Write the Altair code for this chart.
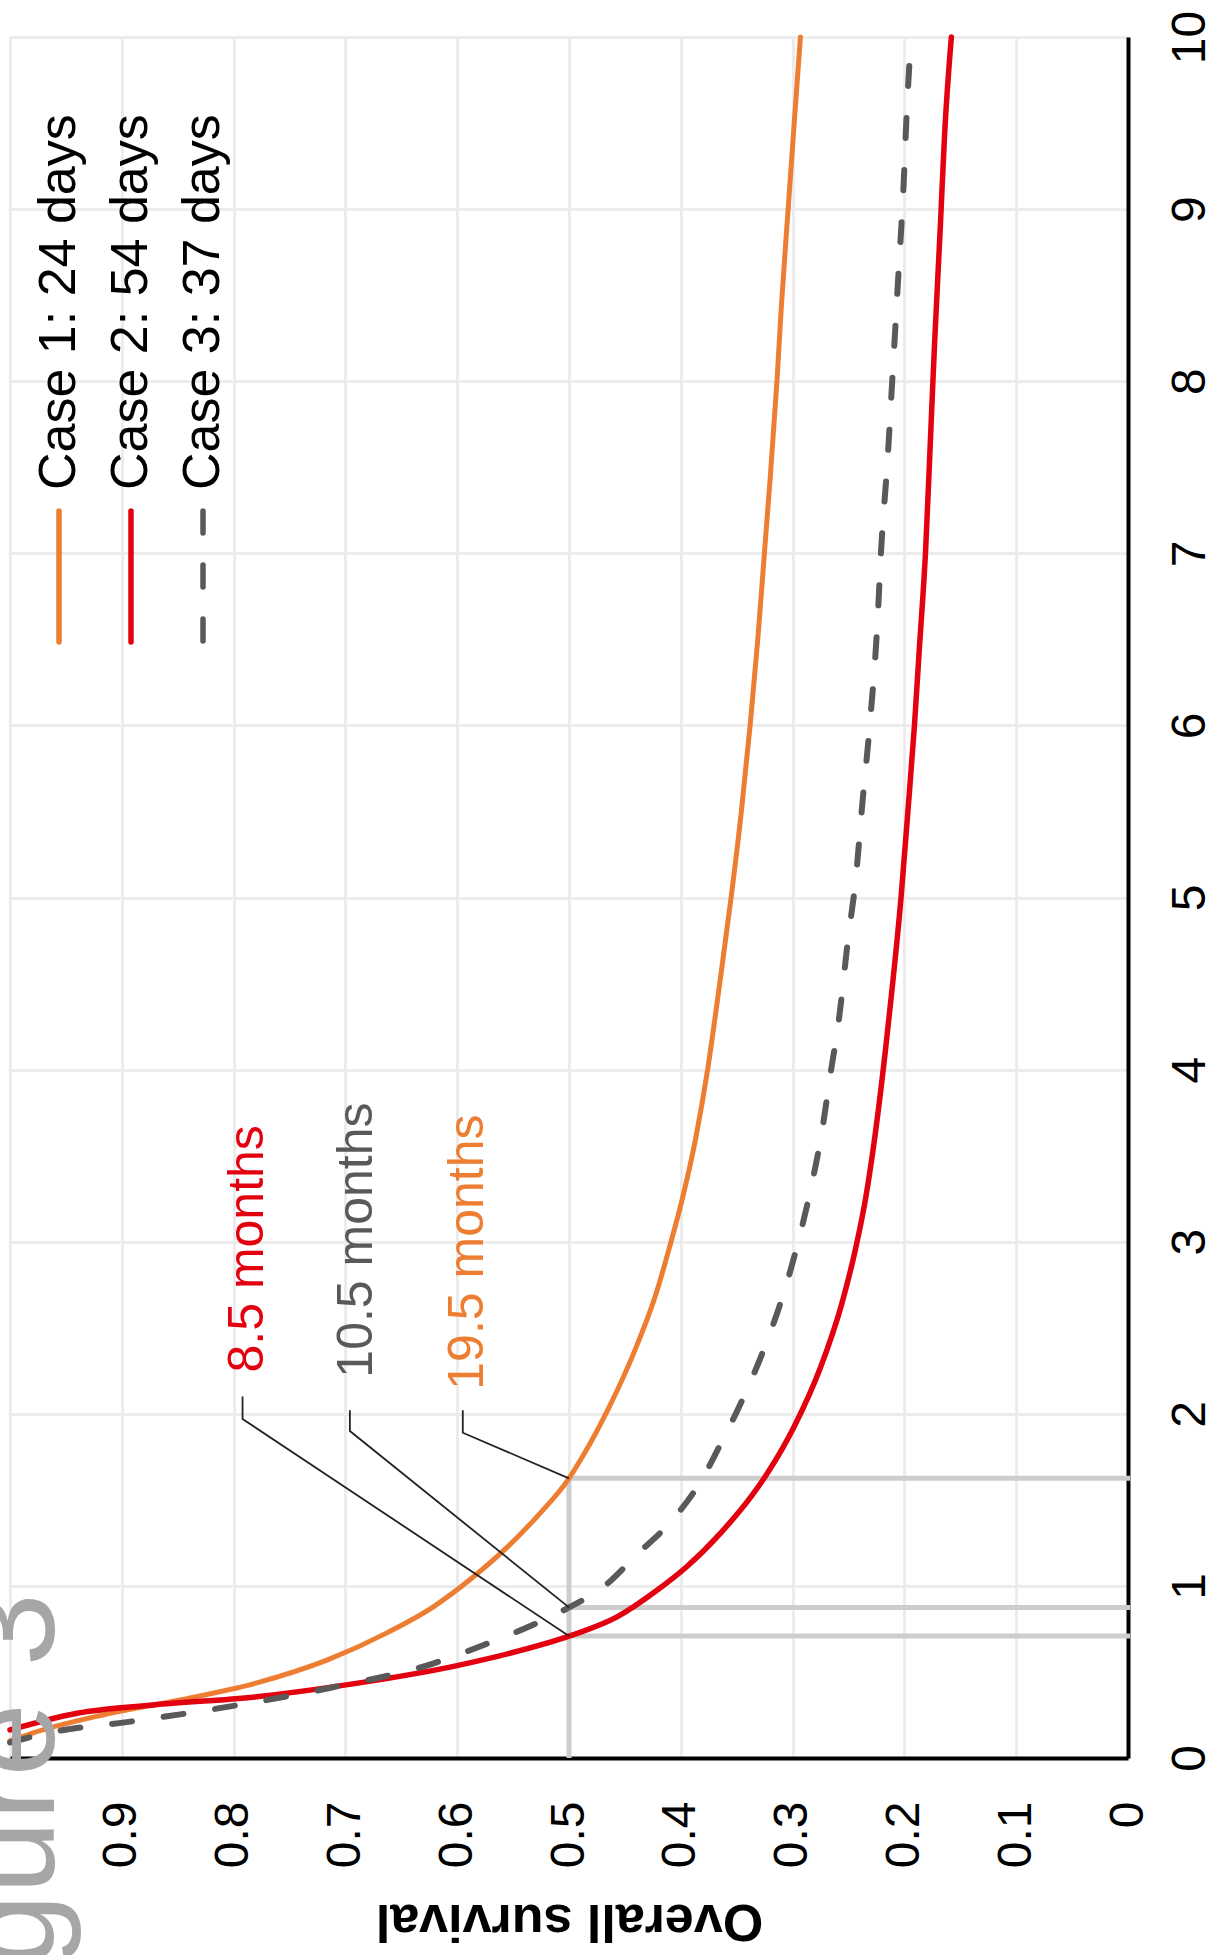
import altair as alt
import pandas as pd

FONT = "Liberation Sans, Arial, Helvetica, sans-serif"

# Overall survival curves (time in years, survival as a fraction)
case_names = ["Case 1: 24 days", "Case 2: 54 days", "Case 3: 37 days"]
case_colors = ["#ed7d31", "#e3000f", "#595959"]

case1_years = [0.10, 0.145, 0.25, 0.337, 0.435, 0.57, 0.73, 0.88, 1.05, 1.19, 1.40, 1.625,
               1.75, 2.04, 2.37, 2.70, 2.97, 3.24, 3.59, 4.0, 4.51, 5.0, 5.49, 6.0, 6.51,
               7.02, 7.44, 8.0, 8.44, 9.0, 9.55, 10.0]
case1_surv = [1.0, 0.98, 0.917, 0.848, 0.78, 0.716, 0.662, 0.621, 0.586, 0.561, 0.529, 0.5,
              0.488, 0.464, 0.441, 0.422, 0.41, 0.399, 0.387, 0.376, 0.365, 0.355, 0.346, 0.338,
              0.331, 0.325, 0.32, 0.314, 0.31, 0.304, 0.298, 0.293]

case2_years = [0.163, 0.26, 0.308, 0.355, 0.435, 0.54, 0.61, 0.708, 0.82, 0.976, 1.11, 1.31,
               1.52, 1.66, 1.92, 2.27, 2.64, 2.95, 3.24, 3.63, 4.11, 4.47, 5.0, 5.49, 6.0,
               6.41, 7.02, 7.77, 8.22, 8.88, 9.44, 10.0]
case2_surv = [1.0, 0.94, 0.872, 0.781, 0.689, 0.598, 0.552, 0.5, 0.457, 0.421, 0.395, 0.364,
              0.337, 0.322, 0.299, 0.275, 0.256, 0.244, 0.235, 0.226, 0.217, 0.211, 0.203, 0.197,
              0.191, 0.187, 0.181, 0.176, 0.173, 0.168, 0.164, 0.158]

case3_years = [0.09, 0.15, 0.21, 0.30, 0.41, 0.55, 0.66, 0.78, 0.875, 0.99, 1.19, 1.38, 1.62,
               1.83, 2.08, 2.37, 2.64, 2.95, 3.30, 3.63, 3.98, 4.27, 4.78, 5.08, 5.59, 6.0,
               6.61, 7.0, 7.55, 8.1, 8.66, 9.1, 9.55, 10.0]
case3_surv = [1.0, 0.963, 0.894, 0.803, 0.712, 0.621, 0.575, 0.53, 0.5, 0.47, 0.438, 0.408,
              0.381, 0.364, 0.345, 0.326, 0.311, 0.297, 0.284, 0.274, 0.266, 0.259, 0.25, 0.244,
              0.237, 0.231, 0.224, 0.221, 0.215, 0.21, 0.205, 0.201, 0.198, 0.194]

# Median survival per case, in months
median_months = [19.5, 8.5, 10.5]

# Callout label anchors and leader elbows (survival, years)
label_surv = [0.577, 0.774, 0.676]
label_year = [2.14, 2.24, 2.21]
elbow_surv = [0.595, 0.792, 0.696]
elbow_top = [2.02, 2.10, 2.02]
elbow_bottom = [1.89, 1.97, 1.90]

surv_ticks = [0.0, 0.1, 0.2, 0.3, 0.4, 0.5, 0.6, 0.7, 0.8, 0.9, 1.0]
year_ticks = [0, 1, 2, 3, 4, 5, 6, 7, 8, 9, 10]

# ---------------------------------------------------------------- encodings
x_enc = alt.X(
    "surv:Q",
    scale=alt.Scale(domain=[0, 1], reverse=True, nice=False, zero=False),
    axis=alt.Axis(
        orient="bottom", values=surv_ticks,
        labelExpr="datum.value > 0.99 ? '' : (datum.value == 0 ? '0' : format(datum.value, '.1f'))",
        labelAngle=270, labelAlign="right", labelBaseline="middle", labelPadding=43,
        labelFontSize=48, labelFont=FONT, labelColor="#000000",
        labelFlush=False, labelOverlap=False,
        ticks=False, domainColor="#000000", domainWidth=4,
        gridColor="#ececec", gridWidth=3,
        title="Overall survival", titleAngle=180, titleBaseline="alphabetic",
        titleY=146, titleFontSize=52, titleFontWeight="bold", titleFont=FONT,
        titleColor="#000000",
    ),
)
y_enc = alt.Y(
    "year:Q",
    scale=alt.Scale(domain=[0, 10], nice=False, zero=False),
    axis=alt.Axis(
        orient="right", values=year_ticks, format="d",
        labelAngle=270, labelAlign="center", labelBaseline="top", labelPadding=38,
        labelFontSize=48, labelFont=FONT, labelColor="#000000",
        labelFlush=False, labelOverlap=False,
        ticks=False, domainColor="#000000", domainWidth=4,
        gridColor="#ececec", gridWidth=3, title=None,
    ),
)

# ---------------------------------------------------------------- data tables
curves = []
for name, yrs, sv in zip(case_names,
                         [case1_years, case2_years, case3_years],
                         [case1_surv, case2_surv, case3_surv]):
    curves.append(pd.DataFrame({"case": name, "year": yrs, "surv": sv}))

median_years = [m / 12 for m in median_months]

ref_rows = [{"surv": 0.5, "surv2": -0.002, "year": my, "year2": my} for my in median_years]
ref_rows.append({"surv": 0.5, "surv2": 0.5, "year": 0.0, "year2": max(median_years)})
ref_df = pd.DataFrame(ref_rows)

leader_rows = []
for i, m in enumerate(median_months):
    lab = f"{m} months"
    leader_rows += [
        {"label": lab, "step": 0, "surv": elbow_surv[i], "year": elbow_top[i]},
        {"label": lab, "step": 1, "surv": elbow_surv[i], "year": elbow_bottom[i]},
        {"label": lab, "step": 2, "surv": 0.5, "year": median_years[i]},
    ]
leader_df = pd.DataFrame(leader_rows)

label_df = pd.DataFrame({
    "label": [f"{m} months" for m in median_months],
    "surv": label_surv,
    "year": label_year,
    "color": case_colors,
})

# ---------------------------------------------------------------- layers
refs = alt.Chart(ref_df).mark_rule(color="#cdcdcd", strokeWidth=5).encode(
    x=x_enc, x2="surv2:Q", y=y_enc, y2="year2:Q"
)

dashes = [None, None, [20, 32]]
widths = [5, 5.5, 6]
curve_layers = []
for df, col, dash, w in zip(curves, case_colors, dashes, widths):
    kw = dict(color=col, strokeWidth=w, strokeCap="round", strokeJoin="round",
              interpolate="monotone")
    if dash:
        kw["strokeDash"] = dash
    curve_layers.append(
        alt.Chart(df).mark_line(**kw).encode(x=x_enc, y=y_enc, order="year:Q")
    )

leaders = alt.Chart(leader_df).mark_line(color="#222222", strokeWidth=1.8).encode(
    x=x_enc, y=y_enc, detail="label:N", order="step:Q"
)

labels = alt.Chart(label_df).mark_text(
    angle=270, align="left", baseline="alphabetic", fontSize=50, font=FONT
).encode(x=x_enc, y=y_enc, text="label:N", color=alt.Color("color:N", scale=None))

# Legend drawn as rotated entries in the upper-left of the plot
legend_layers = []
legend_x = [49, 121, 193]
for name, col, dash, lx in zip(case_names, case_colors, dashes, legend_x):
    kw = dict(color=col, strokeWidth=5.5, strokeCap="round")
    if dash:
        kw["strokeDash"] = [22, 32]
    legend_layers.append(
        alt.Chart(pd.DataFrame({"case": [name]})).mark_rule(**kw).encode(
            x=alt.value(lx), y=alt.value(474), y2=alt.value(605)
        )
    )
    legend_layers.append(
        alt.Chart(pd.DataFrame({"case": [name]})).mark_text(
            angle=270, align="left", baseline="middle", fontSize=52, font=FONT,
            color="#000000"
        ).encode(x=alt.value(lx), y=alt.value(453), text="case:N")
    )

watermark = alt.Chart(pd.DataFrame({"t": ["Figure 3"]})).mark_text(
    angle=270, align="right", baseline="alphabetic", fontSize=132, font=FONT,
    color="#a6a6a6"
).encode(x=alt.value(44), y=alt.value(1556), text="t:N")

chart = alt.layer(
    refs, *curve_layers, leaders, labels, *legend_layers, watermark
).properties(
    width=1118, height=1721,
    padding={"left": 10, "top": 37, "right": 85, "bottom": 197},
    autosize=alt.AutoSizeParams(type="none"),
    background="#ffffff",
).configure_view(stroke=None)

chart.save("out.html", embed_options={"renderer": "svg", "actions": False})
